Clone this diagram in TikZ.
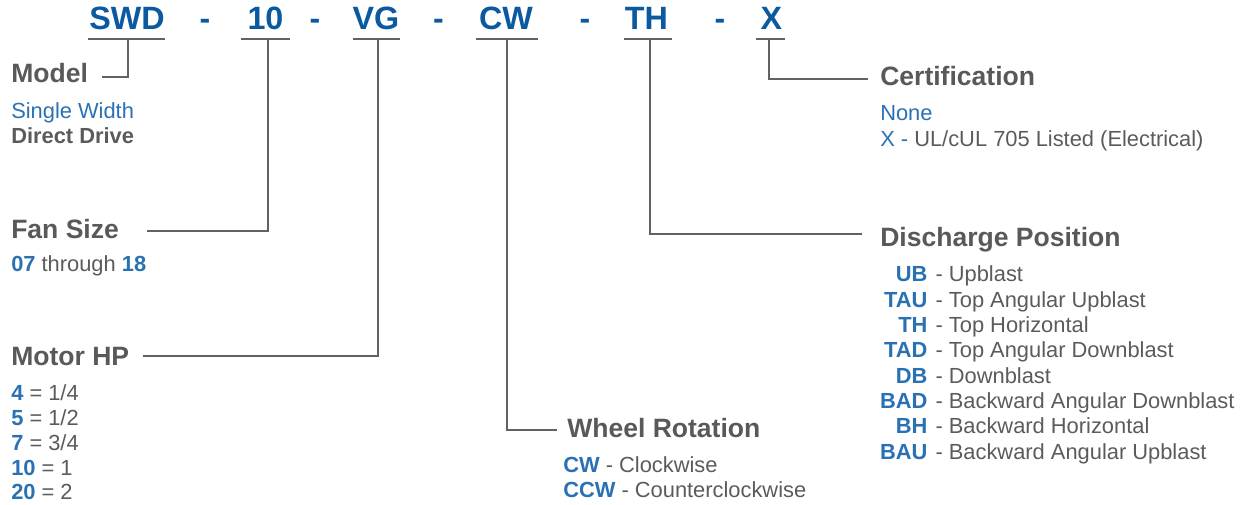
\documentclass[tikz,border=0pt]{standalone}
\usepackage{fontspec}
\setmainfont{Liberation Sans}
\definecolor{codeblue}{HTML}{0B5A9F}
\definecolor{subblue}{HTML}{2A71B4}
\definecolor{headgray}{HTML}{58595B}
\definecolor{textgray}{HTML}{5A5B5D}
\definecolor{linegray}{HTML}{616264}
\newcommand{\bc}[1]{\textcolor{subblue}{\bfseries #1}}
\newcommand{\dl}[2]{\makebox[35.4pt][r]{\bc{#1}}\hspace{1.5pt} - #2}
\begin{document}
\begin{tikzpicture}[x=0.75pt,y=-0.75pt,
  code/.style={anchor=base,inner sep=0pt,text=codeblue,font=\fontsize{24.2pt}{28pt}\selectfont\bfseries},
  dashsep/.style={anchor=base,inner sep=0pt,text=codeblue,font=\fontsize{24pt}{28pt}\selectfont\bfseries},
  head/.style={anchor=base west,inner sep=0pt,text=headgray,font=\fontsize{19.9pt}{24pt}\selectfont\bfseries},
  sub/.style={anchor=base west,inner sep=0pt,text=textgray,font=\fontsize{16.4pt}{19pt}\selectfont},
  ln/.style={draw=linegray,line width=2pt}]
\useasboundingbox (0,0) rectangle (1240,505);
% top code
\node[code] (c1) at (127,30) {SWD};
\node[dashsep] (d1) at (205,30) {-};
\node[code] (c2) at (265.5,30) {10};
\node[dashsep] (d2) at (315,30) {-};
\node[code] (c3) at (376,30) {VG};
\node[dashsep] (d3) at (438.5,30) {-};
\node[code] (c4) at (506,30) {CW};
\node[dashsep] (d4) at (585,30) {-};
\node[code] (c5) at (646.5,30) {TH};
\node[dashsep] (d5) at (720,30) {-};
\node[code] (c6) at (771.5,30) {X};
% underlines
\draw[ln] (88,39) -- (165,39);
\draw[ln] (241,39) -- (290,39);
\draw[ln] (353,39) -- (400,39);
\draw[ln] (476,39) -- (538,39);
\draw[ln] (624,39) -- (672,39);
\draw[ln] (756,39) -- (785,39);
% tap points and ends
\coordinate (t1) at (128,39);  \coordinate (e1) at (102,77);
\coordinate (t2) at (268,39);  \coordinate (e2) at (147,231);
\coordinate (t3) at (378,39);  \coordinate (e3) at (143,356);
\coordinate (t4) at (507,39);  \coordinate (e4) at (557,430);
\coordinate (t5) at (650,39);  \coordinate (e5) at (862,234);
\coordinate (t6) at (769,39);  \coordinate (e6) at (868,79);
\draw[ln] (t1) |- (e1);
\draw[ln] (t2) |- (e2);
\draw[ln] (t3) |- (e3);
\draw[ln] (t4) |- (e4);
\draw[ln] (t5) |- (e5);
\draw[ln] (t6) |- (e6);
% Model
\node[head] (model) at (11,83) {Model};
\node[sub,text=subblue] (model1) at (11,119) {Single Width};
\node[sub,font=\fontsize{16.4pt}{19pt}\selectfont\bfseries] (model2) at (11,144) {Direct Drive};
% Fan size
\node[head] (fan) at (11,239) {Fan Size};
\node[sub] (fan1) at (11,272) {\bc{07} through \bc{18}};
% Motor HP
\node[head] (motor) at (11,366) {Motor HP};
\node[sub] (m1) at (11,401) {\bc{4} = 1/4};
\node[sub] (m2) at (11,425.7) {\bc{5} = 1/2};
\node[sub] (m3) at (11,450.4) {\bc{7} = 3/4};
\node[sub] (m4) at (11,475.1) {\bc{10} = 1};
\node[sub] (m5) at (11,499.8) {\bc{20} = 2};
% Wheel rotation
\node[head] (wheel) at (567,438) {Wheel Rotation};
\node[sub] (w1) at (563,473) {\bc{CW} - Clockwise};
\node[sub] (w2) at (563,498) {\bc{CCW} - Counterclockwise};
% Discharge
\node[head] (dis) at (880,247) {Discharge Position};
\node[sub] (p1) at (880,282) {\dl{UB}{Upblast}};
\node[sub] (p2) at (880,307.3) {\dl{TAU}{Top Angular Upblast}};
\node[sub] (p3) at (880,332.6) {\dl{TH}{Top Horizontal}};
\node[sub] (p4) at (880,357.9) {\dl{TAD}{Top Angular Downblast}};
\node[sub] (p5) at (880,383.2) {\dl{DB}{Downblast}};
\node[sub] (p6) at (880,408.5) {\dl{BAD}{Backward Angular Downblast}};
\node[sub] (p7) at (880,433.8) {\dl{BH}{Backward Horizontal}};
\node[sub] (p8) at (880,459.1) {\dl{BAU}{Backward Angular Upblast}};
% Certification
\node[head] (cert) at (880,86) {Certification};
\node[sub,text=subblue] (cert1) at (880,121) {None};
\node[sub] (cert2) at (880,147) {\textcolor{subblue}{X -} UL/cUL 705 Listed (Electrical)};
\end{tikzpicture}
\end{document}
